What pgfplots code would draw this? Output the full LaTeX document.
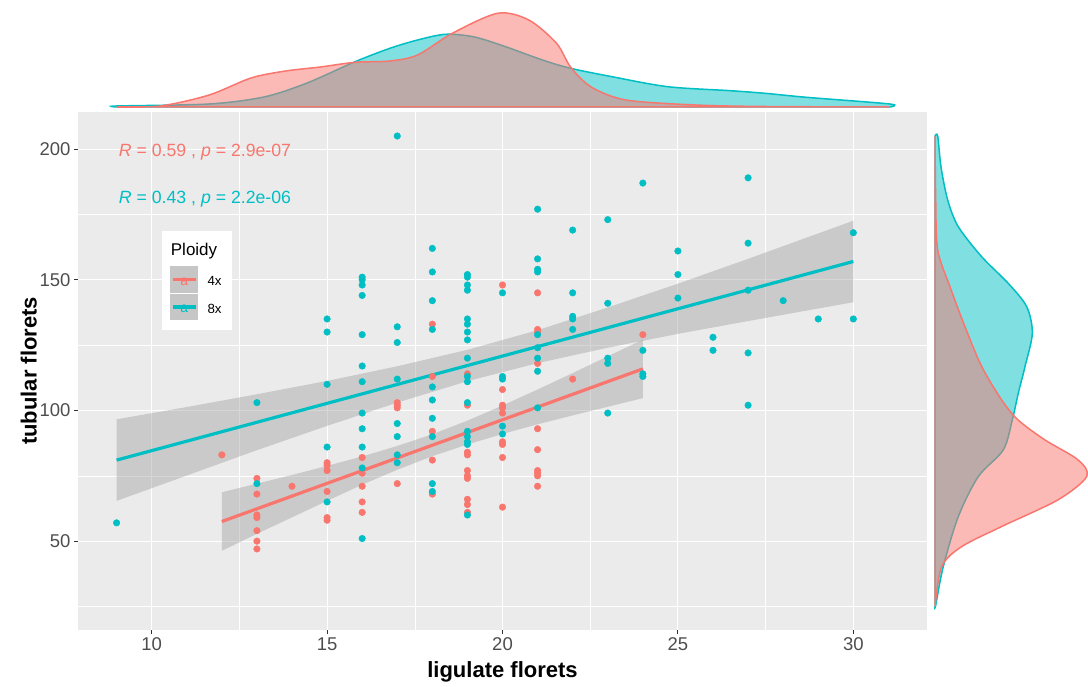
\documentclass[border=0pt]{standalone}
\usepackage{fontspec}
\setmainfont{Liberation Sans}
\usepackage{pgfplots}
\usepackage{pgfplotstable}
\pgfplotsset{compat=1.18}
\definecolor{cred}{HTML}{F8766D}
\definecolor{ccyan}{HTML}{00BFC4}
\definecolor{ggbg}{HTML}{EBEBEB}
\definecolor{gg30}{HTML}{4D4D4D}
\definecolor{gg20}{HTML}{333333}
\definecolor{gg60}{HTML}{999999}

\pgfplotstableread{
x y
12 83
13 74
13 68
13 60
13 59
13 54
13 50
13 47
14 71
15 80
15 79
15 77
15 69
15 59
15 58
16 82
16 76
16 71
16 65
16 61
17 103
17 102
17 101
17 72
18 133
18 113
18 92
18 81
18 68
19 114
19 102
19 84
19 83
19 77
19 75
19 74
19 66
19 64
19 61
20 148
20 108
20 102
20 101
20 99
20 88
20 87
20 82
20 63
21 145
21 131
21 130
21 118
21 93
21 85
21 77
21 76
21 75
21 71
22 112
24 129
}\redpts

\pgfplotstableread{
x y
9 57
13 103
13 72
15 135
15 130
15 110
15 86
15 65
16 151
16 150
16 148
16 144
16 129
16 117
16 111
16 99
16 93
16 86
16 78
16 51
17 205
17 132
17 126
17 112
17 95
17 90
17 83
17 80
18 162
18 153
18 142
18 131
18 109
18 104
18 97
18 90
18 72
18 69
19 152
19 151
19 148
19 146
19 135
19 133
19 130
19 127
19 120
19 113
19 111
19 103
19 92
19 90
19 88
19 87
19 60
20 145
20 113
20 112
20 94
20 91
21 177
21 158
21 154
21 153
21 129
21 124
21 120
21 115
21 101
22 169
22 145
22 136
22 135
22 131
23 173
23 141
23 120
23 118
23 99
24 187
24 123
24 114
24 113
25 161
25 152
25 143
26 128
26 123
27 189
27 164
27 146
27 122
27 102
28 142
29 135
30 168
30 135
}\cyanpts

\begin{document}
\begin{tikzpicture}[x=1pt,y=1pt]
\useasboundingbox (0,0) rectangle (1088,687);

% ---------- main panel ----------
\begin{axis}[
  scale only axis, width=849pt, height=517.5pt,
  at={(78pt,57pt)}, anchor=south west,
  xmin=7.9, xmax=32.1, ymin=16, ymax=214,
  axis background/.style={fill=ggbg},
  axis line style={draw=none},
  xtick={10,15,20,25,30}, ytick={50,100,150,200},
  minor xtick={12.5,17.5,22.5,27.5}, minor ytick={25,75,125,175},
  grid=both,
  major grid style={white, line width=1.1pt},
  minor grid style={white, line width=0.55pt},
  tick align=outside, xtick pos=bottom, ytick pos=left,
  major tick length=4pt, minor tick length=0pt,
  tick style={gg20, line width=1pt},
  ticklabel style={font=\fontsize{18.5}{20}\selectfont, text=gg30},
  /pgf/number format/assume math mode=true,
  clip=true,
]
\addplot[only marks, mark=*, mark size=3.3pt, color=cred] table[x=x,y=y] {\redpts};
\addplot[only marks, mark=*, mark size=3.3pt, color=ccyan] table[x=x,y=y] {\cyanpts};
% red (4x) confidence band and fit
\addplot[fill=gg60, fill opacity=0.4, draw=none] coordinates {
(12,68.7) (13,72.0) (14,75.3) (15,78.8) (16,82.4) (17,86.4) (18,90.9) (19,96.1) (20,101.9) (21,108.0) (22,114.3) (23,120.7) (24,127.1)
(24,104.7) (23,101.4) (22,98.1) (21,94.7) (20,91.0) (19,87.0) (18,82.5) (17,77.3) (16,71.6) (15,65.4) (14,59.1) (13,52.8) (12,46.3)} -- cycle;
\addplot[cred, line width=3.2pt] coordinates {(12,57.5) (24,115.9)};
% cyan (8x) confidence band and fit
\addplot[fill=gg60, fill opacity=0.4, draw=none] coordinates {
(9,96.6) (11,101.3) (13,106.2) (15,111.3) (17,116.9) (19,123.2) (21,130.7) (23,139.4) (25,148.5) (27,158.0) (30,172.6)
(30,141.4) (27,134.2) (25,129.3) (23,124.0) (21,118.1) (19,111.2) (17,103.0) (15,94.1) (13,84.8) (11,75.1) (9,65.4)} -- cycle;
\addplot[ccyan, line width=3.2pt] coordinates {(9,81) (30,157)};
\node[anchor=base west, text=cred, font=\fontsize{17.7}{19}\selectfont, inner sep=0pt] at (axis cs:9.06,197.3) {\textit{R} = 0.59 , \textit{p} = 2.9e-07};
\node[anchor=base west, text=ccyan, font=\fontsize{17.7}{19}\selectfont, inner sep=0pt] at (axis cs:9.06,179.0) {\textit{R} = 0.43 , \textit{p} = 2.2e-06};
\end{axis}

% ---------- top marginal density ----------
\begin{axis}[
  scale only axis, width=849pt, height=100pt,
  at={(78pt,580pt)}, anchor=south west,
  xmin=7.9, xmax=32.1, ymin=0, ymax=100,
  hide axis, clip=false,
]
\addplot[draw=ccyan, fill=ccyan, fill opacity=0.5, line width=1.5pt, smooth] coordinates {
(9.0,0) (9.0,1) (11.64,3) (13.2,10) (14.41,23.7) (15.80,45.3) (16.79,58.7) (17.58,67) (18.37,72.7) (19.16,70.3) (19.95,62) (21.14,47) (21.94,38.7) (23.12,30.3) (24.71,20.3) (26.49,16.3) (27.48,13.7) (28.66,9.7) (31.04,3) (31.04,0)} -- cycle;
\addplot[draw=cred, fill=cred, fill opacity=0.5, line width=1.5pt, smooth] coordinates {
(9.0,0) (10.25,1) (11.64,12) (12.83,29) (13.82,36) (14.81,40) (15.80,44.7) (16.79,46) (17.58,52) (18.57,73.7) (19.86,93.7) (20.75,87) (21.54,63.7) (21.94,40) (22.53,20) (23.52,7) (25.5,2) (27.48,0.5) (31.04,0)} -- cycle;
\end{axis}

% ---------- right marginal density ----------
\begin{axis}[
  scale only axis, width=153pt, height=517.5pt,
  at={(935pt,57pt)}, anchor=south west,
  xmin=0, xmax=153, ymin=16, ymax=214,
  hide axis, clip=false,
]
\addplot[draw=ccyan, fill=ccyan, fill opacity=0.5, line width=1.5pt, smooth] coordinates {
(0,25) (0.7,25.5) (8.3,40.3) (23.3,59.4) (43.3,74.7) (68.3,84.9) (77.3,96.4) (83.3,106.6) (90,116.8) (97.3,129.5) (91.7,139.7) (73.3,148.6) (46.7,158.8) (23.3,170.3) (12.7,180.5) (6,193.2) (2.7,205) (0,205)} -- cycle;
\addplot[draw=cred, fill=cred, fill opacity=0.5, line width=1.5pt, smooth] coordinates {
(0,25) (6.7,40.3) (26.7,47.9) (66.7,55.6) (123,65.8) (151.7,74.7) (143,81.1) (110,88.7) (83,96.4) (66.7,104) (46.7,116.8) (30,132) (15,147.3) (2.7,161.4) (0.7,180.5) (0,205)} -- cycle;
\end{axis}

% ---------- axis titles ----------
\node[anchor=base, font=\bfseries\fontsize{22}{24}\selectfont] at (502.5,9) {ligulate florets};
\node[anchor=base, rotate=90, font=\bfseries\fontsize{22}{24}\selectfont] at (36.5,316) {tubular florets};

% ---------- legend ----------
\fill[white] (162,357) rectangle (231.7,456);
\node[anchor=base west, inner sep=0pt, font=\fontsize{17}{18}\selectfont] at (170.7,431) {Ploidy};
\fill[gg60!45!ggbg] (170.3,394.2) rectangle (198,421.3);
\fill[gg60!45!ggbg] (170.3,366.5) rectangle (198,393.2);
\draw[cred, line width=3.2pt] (172.5,407.7) -- (195.8,407.7);
\draw[ccyan, line width=3.2pt] (172.5,379.9) -- (195.8,379.9);
\node[text=cred, font=\fontsize{14}{14}\selectfont, inner sep=0pt] at (184.2,405.5) {a};
\node[text=ccyan, font=\fontsize{14}{14}\selectfont, inner sep=0pt] at (184.2,377.7) {a};
\node[anchor=base west, inner sep=0pt, font=\fontsize{13.3}{14}\selectfont] at (207.3,401.7) {4x};
\node[anchor=base west, inner sep=0pt, font=\fontsize{13.3}{14}\selectfont] at (207.3,373.7) {8x};
\end{tikzpicture}
\end{document}
